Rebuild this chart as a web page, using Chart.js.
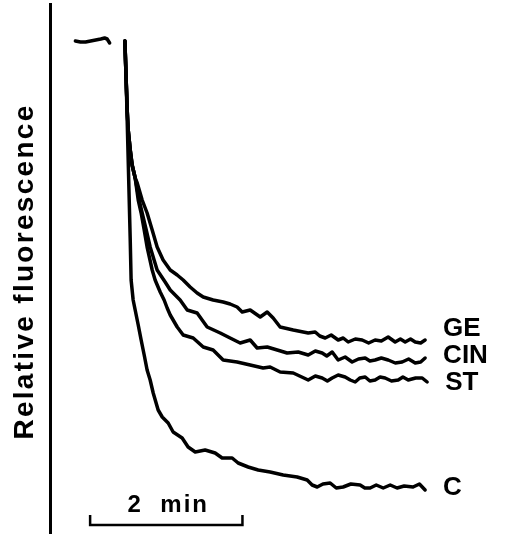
<!DOCTYPE html>
<html>
<head>
<meta charset="utf-8">
<script src="https://cdn.jsdelivr.net/npm/chart.js@4/dist/chart.umd.min.js"></script>
<style>
  html, body { margin: 0; padding: 0; background: #fff; }
  #wrap { width: 507px; height: 535px; }
</style>
</head>
<body>
<div id="wrap"><canvas id="c" width="507" height="535"></canvas></div>
<script>
// ---- Data (time in seconds after addition, relative fluorescence, arbitrary units) ----
const baselineT = [-40, -36, -32, -28, -24, -20, -17, -15, -13];
const baselineF = [98.4, 98.2, 98.2, 98.4, 98.6, 98.8, 99.0, 98.8, 98.0];

const sharedT = [-1, 0, 0.8, 1.6, 3.2, 4.7, 7.1];
const sharedF = [98.4, 90.6, 84.6, 80.6, 76.6, 73.6, 71.0];

const geT = [8.7, 12.6, 16.5, 20.5, 24.4, 29.1, 34.7, 40.2, 44.9, 50.4, 55.9, 60.7, 68.5, 76.4, 81.9, 87.4, 91.4, 97.7, 105.6, 111.1, 115.8, 121.3, 131.6, 143.4,
             148.9, 152.5, 156.8, 161.5, 167.0, 171.0, 174.9, 180.5, 185.9, 191.0, 196.1, 201.0, 206.4, 211.9, 216.0, 219.8, 224.0, 227.7, 232.0, 235.5];
const geF = [70.0, 66.6, 64.0, 60.6, 57.2, 54.6, 52.6, 51.6, 50.6, 49.2, 48.0, 47.2, 46.6, 46.2, 45.8, 45.2, 44.2, 44.6, 43.2, 44.2, 43.0, 41.2, 40.6, 40.0,
             40.2, 39.4, 39.0, 39.6, 38.6, 39.0, 38.2, 38.8, 38.6, 38.0, 38.6, 38.4, 39.2, 38.2, 38.8, 38.2, 38.8, 38.2, 38.0, 38.6];

const cinT = [10.2, 12.6, 15.8, 18.9, 24.4, 30.7, 34.7, 42.5, 48.1, 55.9, 63.8, 74.1, 81.9, 89.8, 97.7, 103.2, 111.1, 119.0, 126.8, 135.5, 143.4,
              149.0, 154.4, 158.0, 162.3, 167.0, 172.5, 178.0, 183.0, 188.3, 192.0, 196.1, 201.0, 206.4, 212.0, 217.4, 222.5, 227.7, 232.0, 235.5];
const cinF = [66.6, 64.0, 60.6, 57.2, 52.6, 50.2, 48.6, 46.6, 44.6, 44.0, 41.2, 40.0, 39.0, 38.0, 38.6, 37.0, 37.2, 36.6, 36.0, 36.2, 35.6,
              36.4, 36.0, 35.4, 36.2, 34.6, 35.2, 34.2, 34.8, 35.0, 34.4, 34.6, 35.0, 34.6, 34.0, 34.2, 34.8, 34.0, 34.2, 35.0];

const stT = [9.5, 11.8, 14.2, 16.5, 20.5, 22.8, 26.8, 29.9, 32.3, 34.7, 40.2, 44.9, 52.8, 60.7, 68.5, 76.4, 87.4, 97.7, 107.9, 113.4, 121.3, 131.6, 143.4,
             149.0, 154.4, 158.5, 162.3, 167.0, 172.5, 176.5, 180.4, 184.0, 188.3, 192.0, 196.1, 200.0, 204.0, 209.0, 214.3, 218.0, 222.2, 228.0, 233.2, 237.1];
const stF = [66.6, 64.0, 60.6, 57.2, 52.6, 50.6, 48.2, 46.6, 45.0, 43.6, 41.2, 39.6, 39.0, 37.2, 36.6, 34.6, 34.2, 33.6, 33.0, 33.2, 32.2, 32.0, 30.6,
             31.4, 31.0, 30.4, 31.0, 31.6, 31.2, 30.6, 30.2, 31.0, 31.2, 30.4, 30.6, 31.2, 31.0, 30.4, 30.6, 31.2, 30.6, 31.0, 31.0, 30.2];

const cT = [-1, 0, 0.8, 1.6, 2.4, 3.2, 3.9, 5.5, 7.1, 9.5, 11.8, 14.2, 16.5, 18.9, 21.3, 25.2, 28.4, 33.1, 37.0, 44.1, 48.8, 54.4, 62.2, 70.1, 75.6, 83.5, 88.2, 96.1, 104.0, 113.4, 123.7, 134.7, 142.6,
            146.5, 150.5, 155.0, 160.7, 165.5, 170.9, 177.0, 184.3, 188.0, 192.2, 197.0, 202.5, 208.0, 213.4, 219.0, 226.0, 231.0, 235.5];
const cF = [98.4, 90.6, 82.6, 74.6, 66.6, 58.6, 50.6, 46.6, 44.6, 41.6, 38.6, 35.6, 32.6, 30.6, 28.0, 24.6, 23.2, 22.0, 20.2, 19.0, 17.2, 16.2, 16.6, 16.0, 15.0, 15.0, 14.0, 13.2, 12.6, 12.2, 11.6, 11.2, 10.6,
            9.6, 9.2, 9.8, 10.0, 9.0, 9.2, 9.8, 9.6, 9.0, 9.0, 9.6, 9.0, 9.6, 9.0, 9.4, 9.2, 9.8, 8.6];

const seriesNames = ['GE', 'CIN', 'ST', 'C'];
const yAxisTitle = 'Relative fluorescence';
const scaleBarLabel = '2  min';
const scaleBarSeconds = 120;
const scaleBarStart = -28.4;

function pts(ts, fs) { return ts.map((t, i) => ({ x: t, y: fs[i] })); }

const common = { borderColor: '#000', borderWidth: 3.5, pointRadius: 0, tension: 0, fill: false, borderJoinStyle: 'round', borderCapStyle: 'round' };

const datasets = [
  Object.assign({ label: 'baseline', data: pts(baselineT, baselineF) }, common),
  Object.assign({ label: seriesNames[0], data: pts(sharedT.concat(geT), sharedF.concat(geF)) }, common),
  Object.assign({ label: seriesNames[1], data: pts(sharedT.concat(cinT), sharedF.concat(cinF)) }, common),
  Object.assign({ label: seriesNames[2], data: pts(sharedT.concat(stT), sharedF.concat(stF)) }, common),
  Object.assign({ label: seriesNames[3], data: pts(cT, cF) }, common)
];

const annot = {
  id: 'annot',
  afterDraw(chart) {
    const ctx = chart.ctx;
    const xs = chart.scales.x, ys = chart.scales.y;
    ctx.save();
    ctx.fillStyle = '#000';
    ctx.strokeStyle = '#000';
    // series labels at the end of each trace
    const offs = { GE: -11, CIN: -2, ST: 1, C: -2 };
    ctx.font = 'bold 26px "Liberation Sans", Arial, sans-serif';
    ctx.textBaseline = 'middle';
    ctx.textAlign = 'left';
    chart.data.datasets.forEach((ds, i) => {
      if (!seriesNames.includes(ds.label)) return;
      const meta = chart.getDatasetMeta(i);
      const last = meta.data[meta.data.length - 1];
      ctx.fillText(ds.label, Math.max(last.x, xs.getPixelForValue(235.5)) + 18, last.y + offs[ds.label]);
    });
    // time scale bar
    const x0 = xs.getPixelForValue(scaleBarStart);
    const x1 = xs.getPixelForValue(scaleBarStart + scaleBarSeconds);
    const yb = ys.getPixelForValue(1.6);
    const yt = ys.getPixelForValue(3.6);
    ctx.lineWidth = 2.5;
    ctx.lineCap = 'butt';
    ctx.beginPath();
    ctx.moveTo(x0, yt); ctx.lineTo(x0, yb); ctx.lineTo(x1, yb); ctx.lineTo(x1, yt);
    ctx.stroke();
    ctx.font = 'bold 24px "Liberation Sans", Arial, sans-serif';
    ctx.textAlign = 'center';
    ctx.textBaseline = 'alphabetic';
    try { ctx.letterSpacing = '2px'; } catch (e) {}
    ctx.fillText(scaleBarLabel, (x0 + x1) / 2 + 2, ys.getPixelForValue(4.2));
    // y axis title
    ctx.save();
    ctx.translate(33, (chart.chartArea.top + chart.chartArea.bottom) / 2 + 3);
    ctx.rotate(-Math.PI / 2);
    ctx.font = 'bold 28px "Liberation Sans", Arial, sans-serif';
    try { ctx.letterSpacing = '2.3px'; } catch (e) {}
    ctx.textAlign = 'center';
    ctx.textBaseline = 'alphabetic';
    ctx.fillText(yAxisTitle, 0, 0);
    ctx.restore();
    ctx.restore();
  }
};

new Chart(document.getElementById('c'), {
  type: 'line',
  data: { datasets },
  options: {
    responsive: false,
    animation: false,
    parsing: true,
    layout: { padding: { left: 50, right: 0, top: 4, bottom: 2 } },
    plugins: { legend: { display: false }, tooltip: { enabled: false }, title: { display: false } },
    scales: {
      x: { type: 'linear', min: -60, max: 300, display: false },
      y: {
        type: 'linear', min: 0, max: 105.8, display: true,
        grid: { display: false, drawTicks: false, tickLength: 0 },
        ticks: { display: false },
        border: { display: true, color: '#000', width: 3 }
      }
    }
  },
  plugins: [annot]
});
</script>
</body>
</html>
